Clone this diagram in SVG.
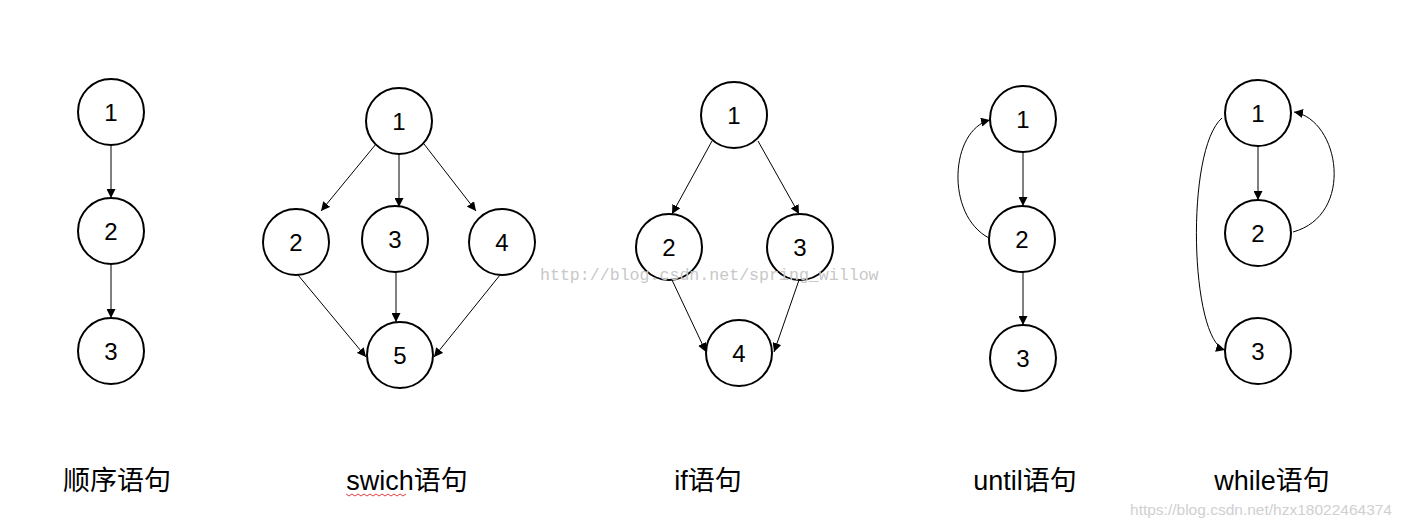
<svg xmlns="http://www.w3.org/2000/svg" width="1401" height="528" viewBox="0 0 1401 528">
<style>
.n circle{fill:#fff;stroke:#000;stroke-width:2}
.n text{font-family:"Liberation Sans",Arial,sans-serif;font-size:24px;text-anchor:middle;dominant-baseline:central}
.e{fill:none;stroke:#000;stroke-width:1;marker-end:url(#a)}
.lab{font-family:"Liberation Sans","Noto Sans CJK SC",sans-serif;font-size:27px;text-anchor:middle}
.wm{font-family:"Liberation Mono",monospace;fill:#c8c8c8}
</style>
<defs><marker id="a" viewBox="0 0 10 10" refX="10" refY="5" markerWidth="9" markerHeight="9" markerUnits="userSpaceOnUse" orient="auto"><path d="M0,0L10,5L0,10z"/></marker></defs>
<rect width="1401" height="528" fill="#fff"/>
<g id="connectors">
<path class="e" d="M111,145V198"/><path class="e" d="M111,264V318"/>
<path class="e" d="M376,144L321,211"/><path class="e" d="M399,154V207"/><path class="e" d="M424,144L476,211"/>
<path class="e" d="M298,275L366,357"/><path class="e" d="M396,272V322"/><path class="e" d="M500,275L434,357"/>
<path class="e" d="M712,141L672,214"/><path class="e" d="M758,141L799,214"/>
<path class="e" d="M672,280L706,352"/><path class="e" d="M799,280L774,352"/>
<path class="e" d="M1023,152V206"/><path class="e" d="M1023,272V325"/>
<path class="e" d="M989,238C945,215 950,130 990,120"/>
<path class="e" d="M1258,146V200"/>
<path class="e" d="M1222,118C1185,150 1190,340 1225,350"/>
<path class="e" d="M1293,232C1355,215 1340,120 1294,112"/>
</g>
<g id="s1" class="n"><circle cx="111" cy="112" r="33"/><text x="111" y="112">1</text></g>
<g id="s2" class="n"><circle cx="111" cy="231" r="33"/><text x="111" y="231">2</text></g>
<g id="s3" class="n"><circle cx="111" cy="351" r="33"/><text x="111" y="351">3</text></g>
<g id="w1" class="n"><circle cx="399" cy="121" r="33"/><text x="399" y="121">1</text></g>
<g id="w2" class="n"><circle cx="296" cy="242" r="33"/><text x="296" y="242">2</text></g>
<g id="w3" class="n"><circle cx="395" cy="239" r="33"/><text x="395" y="239">3</text></g>
<g id="w4" class="n"><circle cx="502" cy="242" r="33"/><text x="502" y="242">4</text></g>
<g id="w5" class="n"><circle cx="400" cy="355" r="33"/><text x="400" y="355">5</text></g>
<g id="i1" class="n"><circle cx="734" cy="115" r="33"/><text x="734" y="115">1</text></g>
<g id="i2" class="n"><circle cx="669" cy="247" r="33"/><text x="669" y="247">2</text></g>
<g id="i3" class="n"><circle cx="800" cy="247" r="33"/><text x="800" y="247">3</text></g>
<g id="i4" class="n"><circle cx="739" cy="353" r="33"/><text x="739" y="353">4</text></g>
<g id="u1" class="n"><circle cx="1023" cy="119" r="33"/><text x="1023" y="119">1</text></g>
<g id="u2" class="n"><circle cx="1022" cy="239" r="33"/><text x="1022" y="239">2</text></g>
<g id="u3" class="n"><circle cx="1023" cy="358" r="33"/><text x="1023" y="358">3</text></g>
<g id="h1" class="n"><circle cx="1258" cy="113" r="33"/><text x="1258" y="113">1</text></g>
<g id="h2" class="n"><circle cx="1258" cy="233" r="33"/><text x="1258" y="233">2</text></g>
<g id="h3" class="n"><circle cx="1258" cy="351" r="33"/><text x="1258" y="351">3</text></g>
<text class="wm" x="540" y="280" font-size="16.6">http://blog.csdn.net/spring_willow</text>
<text class="lab" x="117" y="490">顺序语句</text>
<text class="lab" x="407" y="490">swich语句</text>
<path d="M346,494l3,2 3,-2 3,2 3,-2 3,2 3,-2 3,2 3,-2 3,2 3,-2 3,2 3,-2 3,2 3,-2 3,2 3,-2 3,2 3,-2 3,2 3,-2" fill="none" stroke="#e04040" stroke-width="1"/>
<text class="lab" x="708" y="490">if语句</text>
<text class="lab" x="1025" y="490">until语句</text>
<text class="lab" x="1272" y="490">while语句</text>
<text x="1392" y="515" text-anchor="end" font-family="Liberation Sans,sans-serif" font-size="15.5" fill="#d0d0d0">https://blog.csdn.net/hzx18022464374</text>
</svg>
